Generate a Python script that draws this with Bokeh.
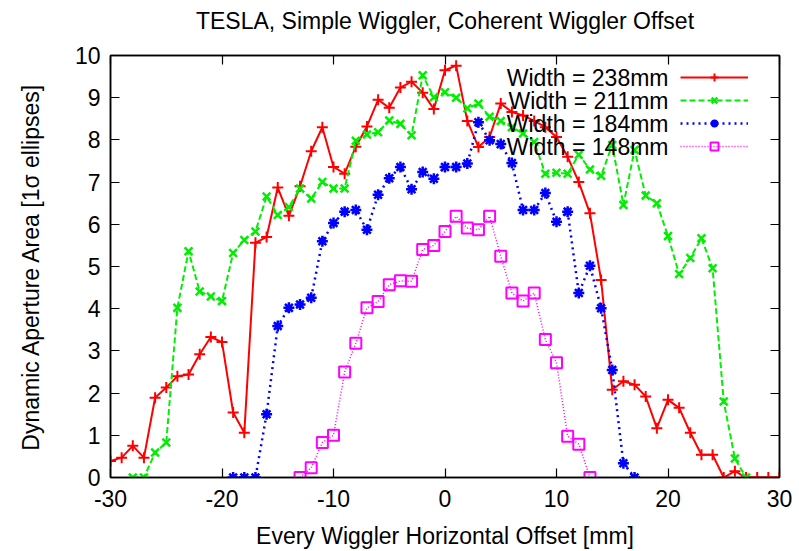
from bokeh.plotting import figure
from bokeh.models import (Range1d, FixedTicker, LinearAxis, Legend, LegendItem, Label)
from bokeh.core.properties import value
from bokeh.embed import file_html
from bokeh.resources import INLINE

# ---------------- data ----------------
title_text = "TESLA, Simple Wiggler, Coherent Wiggler Offset"
x_label = "Every Wiggler Horizontal Offset [mm]"
y_label = "Dynamic Aperture Area [1\u03c3 ellipses]"
series_labels = ["Width = 238mm", "Width = 211mm", "Width = 184mm", "Width = 148mm"]

x_ticks = [-30, -20, -10, 0, 10, 20, 30]
x_tick_labels = ["-30", "-20", "-10", "0", "10", "20", "30"]
y_ticks = [0, 1, 2, 3, 4, 5, 6, 7, 8, 9, 10]
y_tick_labels = ["0", "1", "2", "3", "4", "5", "6", "7", "8", "9", "10"]

w238_x = [-30, -29, -28, -27, -26, -25, -24, -23, -22, -21, -20, -19, -18, -17, -16,
          -15, -14, -13, -12, -11, -10, -9, -8, -7, -6, -5, -4, -3, -2, -1,
          0, 1, 2, 3, 4, 5, 6, 7, 8, 9, 10, 11, 12, 13, 14, 15,
          16, 17, 18, 19, 20, 21, 22, 23, 24, 25, 26, 27, 28, 29, 30]
w238_y = [0.39, 0.47, 0.75, 0.47, 1.89, 2.13, 2.40, 2.44, 2.92, 3.33, 3.21, 1.54, 1.06, 5.56, 5.70,
          6.87, 6.20, 6.90, 7.73, 8.30, 7.36, 7.20, 7.84, 8.32, 8.95, 8.76, 9.24, 9.38, 9.12, 8.73,
          9.65, 9.76, 8.45, 7.83, 8.07, 8.86, 8.66, 8.58, 8.45, 8.30, 8.07, 7.60, 7.00, 6.26, 4.68, 2.08,
          2.28, 2.20, 1.92, 1.17, 1.84, 1.65, 1.06, 0.54, 0.54, 0.00, 0.15, 0.00, 0.00, 0.00, 0.00]

w211_x = [-28, -27, -26, -25, -24, -23, -22, -21, -20, -19, -18, -17, -16,
          -15, -14, -13, -12, -11, -10, -9, -8, -7, -6, -5, -4, -3, -2, -1,
          0, 1, 2, 3, 4, 5, 6, 7, 8, 9, 10, 11, 12, 13, 14, 15,
          16, 17, 18, 19, 20, 21, 22, 23, 24, 25, 26, 27]
w211_y = [0.00, 0.00, 0.59, 0.83, 4.02, 5.36, 4.41, 4.29, 4.18, 5.32, 5.63, 5.83, 6.66,
          6.22, 6.41, 6.85, 6.61, 7.00, 6.85, 6.85, 7.98, 8.13, 8.18, 8.46, 8.38, 8.11, 9.53, 9.01,
          9.13, 9.00, 8.75, 8.86, 8.55, 8.45, 8.30, 8.15, 7.95, 7.20, 7.22, 7.20, 7.65, 7.30, 7.15, 7.88,
          6.46, 7.76, 6.68, 6.50, 5.72, 4.82, 5.20, 5.67, 4.96, 1.80, 0.45, 0.00]

w184_x = [-19, -18, -17, -16, -15, -14, -13, -12, -11, -10, -9, -8, -7, -6, -5, -4, -3, -2, -1,
          0, 1, 2, 3, 4, 5, 6, 7, 8, 9, 10, 11, 12, 13, 14, 15, 16, 17]
w184_y = [0.00, 0.00, 0.00, 1.50, 3.59, 4.02, 4.10, 4.26, 5.60, 6.03, 6.30, 6.34, 5.87, 6.70, 7.09,
          7.36, 6.83, 7.24, 7.08,
          7.36, 7.36, 7.44, 8.42, 7.99, 7.90, 7.45, 6.34, 6.34, 6.74, 6.06, 6.30, 4.37, 5.02, 4.01,
          2.55, 0.34, 0.00]

w148_x = [-13, -12, -11, -10, -9, -8, -7, -6, -5, -4, -3, -2, -1,
          0, 1, 2, 3, 4, 5, 6, 7, 8, 9, 10, 11, 12, 13]
w148_y = [0.00, 0.23, 0.83, 1.00, 2.50, 3.18, 4.02, 4.17, 4.57, 4.66, 4.65, 5.40, 5.50,
          5.83, 6.19, 5.91, 5.87, 6.19, 5.24, 4.37, 4.18, 4.37, 3.27, 2.72, 0.98, 0.79, 0.00]

# ---------------- figure ----------------
FONT = "Liberation Sans"
FS = "23px"

p = figure(width=799, height=551, output_backend="svg", toolbar_location=None,
           x_range=Range1d(-30, 30), y_range=Range1d(0, 10),
           min_border_left=110, min_border_right=20, min_border_top=55, min_border_bottom=73)
p.title.visible = False

p.xgrid.visible = False
p.ygrid.visible = False
p.outline_line_color = "black"
p.outline_line_width = 1.5
p.background_fill_color = "white"
p.border_fill_color = "white"

bottom_ax = p.xaxis[0]
left_ax = p.yaxis[0]

def style_axis(ax, ticks, tick_labels=None):
    ax.ticker = FixedTicker(ticks=ticks)
    ax.major_tick_in = 9
    ax.major_tick_out = 0
    ax.minor_tick_in = 0
    ax.minor_tick_out = 0
    ax.major_tick_line_color = "black"
    ax.major_tick_line_width = 1.2
    ax.axis_line_color = "black"
    ax.axis_line_width = 1.5
    ax.major_label_text_font = FONT
    ax.major_label_text_color = "black"
    ax.axis_label_text_font = FONT
    ax.axis_label_text_font_size = FS
    ax.axis_label_text_font_style = "normal"
    ax.axis_label_text_color = "black"
    if tick_labels is not None:
        ax.major_label_overrides = {t: s for t, s in zip(ticks, tick_labels)}
        ax.major_label_text_font_size = FS
    else:
        ax.major_label_text_font_size = "0px"
        ax.major_label_standoff = 0

style_axis(bottom_ax, x_ticks, x_tick_labels)
style_axis(left_ax, y_ticks, y_tick_labels)
bottom_ax.axis_label = x_label
left_ax.axis_label = y_label
bottom_ax.major_label_standoff = 12
bottom_ax.axis_label_standoff = 13
left_ax.major_label_standoff = 10
left_ax.axis_label_standoff = 28

# top axis: mirrored ticks, carries the chart title as its label
top_ax = LinearAxis()
style_axis(top_ax, x_ticks)
top_ax.axis_label = title_text
top_ax.axis_label_standoff = 22
p.add_layout(top_ax, "above")
right_ax = LinearAxis()
style_axis(right_ax, y_ticks)
p.add_layout(right_ax, "right")

# ---------------- series ----------------
r1 = p.line(w238_x, w238_y, line_color="#ff0000", line_width=2)
m1 = p.scatter(w238_x, w238_y, marker="cross", size=11, line_color="#ff0000", line_width=2)

r2 = p.line(w211_x, w211_y, line_color="#00ee00", line_width=2, line_dash="6 3")
m2 = p.scatter(w211_x, w211_y, marker="x", size=11, line_color="#00ee00", line_width=2.5)

r3 = p.line(w184_x, w184_y, line_color="#0000ff", line_width=2.5, line_dash="2 4")
m3 = p.scatter(w184_x, w184_y, marker="asterisk", size=11, line_color="#0000ff", line_width=2.5)

r4 = p.line(w148_x, w148_y, line_color="#ff00ff", line_width=1.5, line_dash="1 2")
m4 = p.scatter(w148_x, w148_y, marker="square", size=11, line_color="#ff00ff",
               fill_color=None, line_width=2)

items = [LegendItem(label=value(" "), renderers=[r, m])
         for r, m in ((r1, m1), (r2, m2), (r3, m3), (r4, m4))]
legend = Legend(items=items, location=(570, 321), glyph_width=68, glyph_height=20,
                label_height=20, label_width=0, label_standoff=0, spacing=3, padding=0,
                margin=0, border_line_alpha=0, background_fill_alpha=0,
                label_text_font_size="0px")
p.add_layout(legend, "center")

for i, txt in enumerate(series_labels):
    p.add_layout(Label(x=558, y=400 - 23 * i, x_units="screen", y_units="screen",
                       text=txt, text_align="right", text_baseline="middle",
                       text_font=FONT, text_font_size=FS, text_color="black"))

open("out.html", "w").write(file_html(p, INLINE))
